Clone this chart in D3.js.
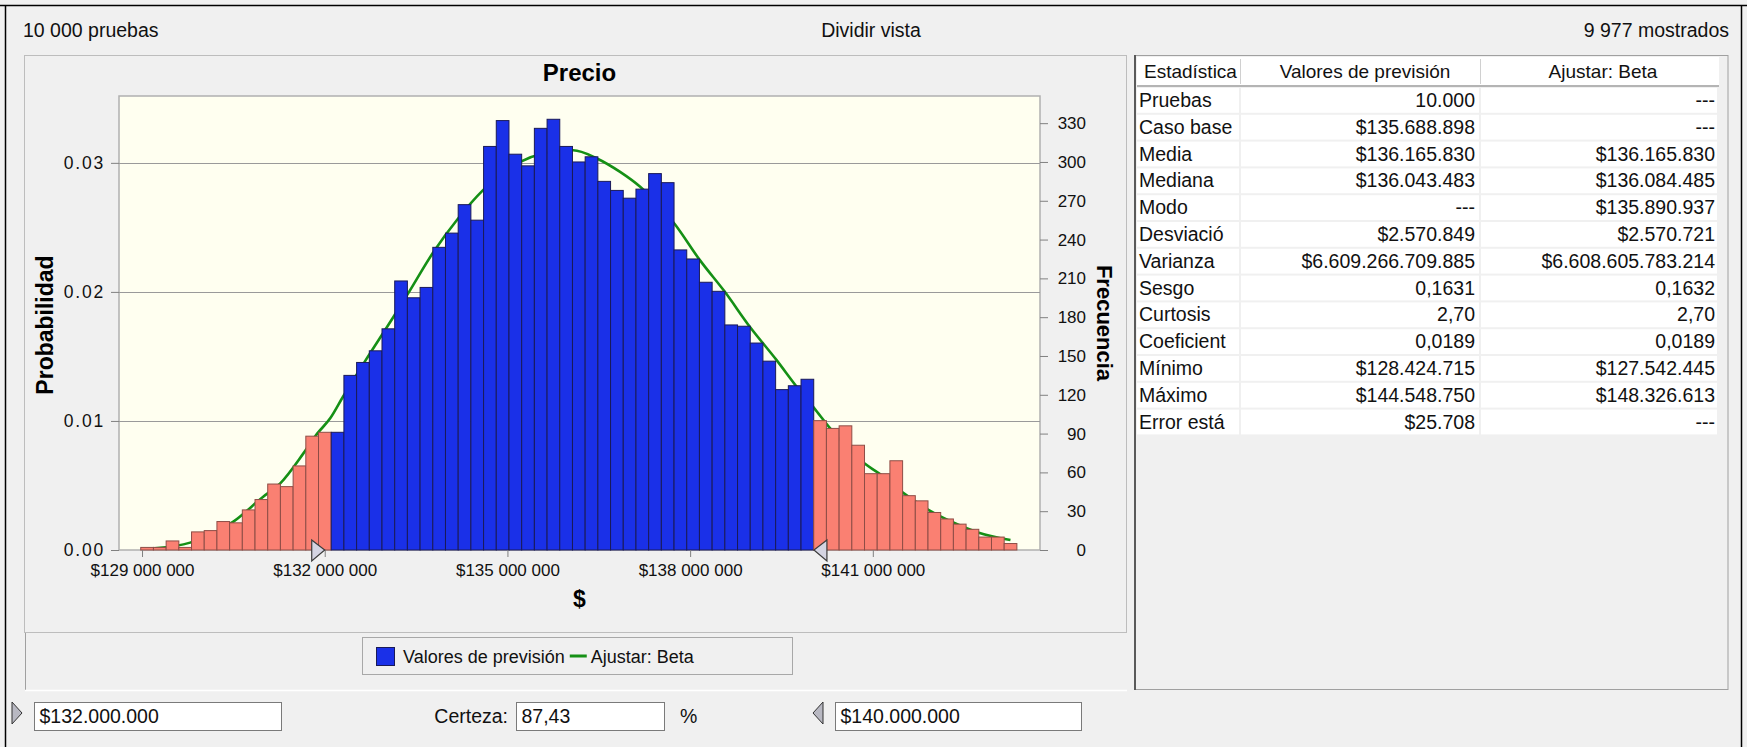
<!DOCTYPE html>
<html lang="es">
<head>
  <meta charset="UTF-8" />
  <title>Precio</title>
  <script src="https://d3js.org/d3.v7.min.js"></script>
  <style>
    body { margin: 0; background: #f0f0f0; overflow: hidden; }
    svg { display: block; font-family: "Liberation Sans", Arial, sans-serif; }
    .tick text { fill: #111; }
    .tick line { stroke: #808080; }
  </style>
</head>
<body>
  <svg width="1747" height="747"></svg>
  <script>
    // ---- datos ----
    const trials = 10000;
    const shown = 9977;
    const binStart = 128979000;
    const binWidth = 208500;
    const counts = [
      2, 2, 7, 2, 14, 15, 22, 21, 31, 39, 51, 49, 65, 88, 91,
      91, 135, 145, 154, 171, 208, 195, 203, 234, 245, 267, 255, 312, 332, 306,
      297, 326, 333, 312, 300, 304, 285, 278, 272, 279, 291, 284, 232, 225, 207,
      200, 174, 173, 160, 146, 124, 127, 132,
      100, 94, 96, 81, 59, 59, 69, 42, 38, 29, 24, 20, 16, 10, 10, 5
    ];
    const lowerBound = 132000000;
    const upperBound = 140000000;
    const certainty = "87,43";

    // curva ajustada (Beta): x en millones, y en frecuencia
    const fitX = [129.21, 129.79, 130.50, 130.99, 131.27, 131.65, 131.87, 132.09, 132.30, 132.66,
                  133.13, 133.37, 133.78, 134.19, 134.60, 135.21, 135.59, 136.08, 136.47, 136.85,
                  137.18, 137.75, 138.16, 138.57, 138.98, 139.42, 139.75, 140.04, 140.30, 140.86,
                  141.10, 141.51, 141.92, 142.33, 142.74, 143.26];
    const fitY = [1.3, 5.7, 21.9, 41.2, 51.5, 74.7, 89.6, 101.8, 118.5, 145.8,
                  180.3, 198.4, 230.0, 256.3, 278.2, 300.1, 306.6, 309.1, 302.7, 292.3,
                  280.8, 251.9, 224.1, 199.6, 172.6, 146.8, 126.2, 109.5, 94.0, 67.0,
                  59.3, 43.8, 30.9, 21.1, 13.4, 7.7];

    const xTicks = [129000000, 132000000, 135000000, 138000000, 141000000];
    const probTicks = [0, 0.01, 0.02, 0.03];
    const freqTicks = [0, 30, 60, 90, 120, 150, 180, 210, 240, 270, 300, 330];

    const statNames = ["Pruebas", "Caso base", "Media", "Mediana", "Modo", "Desviació", "Varianza",
                       "Sesgo", "Curtosis", "Coeficient", "Mínimo", "Máximo", "Error está"];
    const forecastVals = ["10.000", "$135.688.898", "$136.165.830", "$136.043.483", "---", "$2.570.849",
                          "$6.609.266.709.885", "0,1631", "2,70", "0,0189", "$128.424.715", "$144.548.750", "$25.708"];
    const betaVals = ["---", "---", "$136.165.830", "$136.084.485", "$135.890.937", "$2.570.721",
                      "$6.608.605.783.214", "0,1632", "2,70", "0,0189", "$127.542.445", "$148.326.613", "---"];
    const tableHeaders = ["Estadística", "Valores de previsión", "Ajustar: Beta"];

    // ---- escalas ----
    const svg = d3.select("svg");
    const plot = { left: 119, right: 1040, top: 96, bottom: 550 };

    const x = d3.scaleLinear().domain([128622000, 143745000]).range([plot.left, plot.right]);
    const yFreq = d3.scaleLinear().domain([0, 351]).range([plot.bottom, plot.top]);
    const yProb = d3.scaleLinear().domain([0, 351 / shown]).range([plot.bottom, plot.top]);

    const spaceLocale = d3.formatLocale({ decimal: ",", thousands: " ", grouping: [3], currency: ["$", ""] });
    const dotLocale = d3.formatLocale({ decimal: ",", thousands: ".", grouping: [3], currency: ["$", ""] });

    // ---- marco de la ventana ----
    svg.append("line").attr("x1", 0).attr("x2", 1747).attr("y1", 5.5).attr("y2", 5.5).attr("stroke", "#000").attr("stroke-width", 1.5);
    svg.append("line").attr("x1", 5.5).attr("x2", 5.5).attr("y1", 5).attr("y2", 747).attr("stroke", "#000").attr("stroke-width", 1.5);
    svg.append("line").attr("x1", 1741.5).attr("x2", 1741.5).attr("y1", 5).attr("y2", 747).attr("stroke", "#000").attr("stroke-width", 1.5);

    const hdr = svg.append("g").attr("font-size", 19.5).attr("fill", "#111");
    hdr.append("text").attr("x", 23).attr("y", 37).text(spaceLocale.format(",")(trials) + " pruebas");
    hdr.append("text").attr("x", 871).attr("y", 37).attr("text-anchor", "middle").text("Dividir vista");
    hdr.append("text").attr("x", 1729).attr("y", 37).attr("text-anchor", "end").text(spaceLocale.format(",")(shown) + " mostrados");

    // panel del gráfico
    svg.append("rect").attr("x", 24.5).attr("y", 55.5).attr("width", 1102).attr("height", 577)
      .attr("fill", "none").attr("stroke", "#8a8a8a").attr("stroke-dasharray", "1,1");
    svg.append("line").attr("x1", 25.5).attr("x2", 25.5).attr("y1", 633).attr("y2", 691).attr("stroke", "#a0a0a0");
    svg.append("line").attr("x1", 25).attr("x2", 1127).attr("y1", 690.5).attr("y2", 690.5).attr("stroke", "#ffffff").attr("stroke-width", 1.5);

    // área de trazado
    svg.append("rect").attr("x", plot.left).attr("y", plot.top)
      .attr("width", plot.right - plot.left).attr("height", plot.bottom - plot.top)
      .attr("fill", "#fffff0").attr("stroke", "#b0b0b0").attr("stroke-width", 1.5);

    svg.append("g").selectAll("line")
      .data(probTicks.filter(d => d > 0))
      .join("line")
      .attr("x1", plot.left).attr("x2", plot.right)
      .attr("y1", d => Math.round(yProb(d)) + 0.5).attr("y2", d => Math.round(yProb(d)) + 0.5)
      .attr("stroke", "#9a9a9a").attr("stroke-width", 1.2);

    // curva Beta (detrás de las barras)
    const fitPts = fitX.map((v, i) => [v * 1e6, fitY[i]]);
    svg.append("path")
      .datum(fitPts)
      .attr("fill", "none")
      .attr("stroke", "#159015")
      .attr("stroke-width", 2.6)
      .attr("d", d3.line().x(d => x(d[0])).y(d => yFreq(d[1])).curve(d3.curveMonotoneX));

    // histograma
    const bins = counts.map((c, i) => ({ start: binStart + i * binWidth, count: c }));
    const inside = d => d.start >= lowerBound && d.start < upperBound;
    svg.append("g").selectAll("rect")
      .data(bins)
      .join("rect")
      .attr("x", d => x(d.start))
      .attr("width", d => x(d.start + binWidth) - x(d.start))
      .attr("y", d => yFreq(d.count))
      .attr("height", d => plot.bottom - yFreq(d.count))
      .attr("fill", d => inside(d) ? "#1a30e8" : "#fa8072")
      .attr("stroke", d => inside(d) ? "#1a1a58" : "#8e4d46")
      .attr("stroke-width", 1);

    // ejes
    const axL = svg.append("g").attr("transform", `translate(${plot.left},0)`)
      .call(d3.axisLeft(yProb).tickValues(probTicks).tickFormat(d3.format(".2f")).tickSize(8).tickPadding(6));
    const axR = svg.append("g").attr("transform", `translate(${plot.right},0)`)
      .call(d3.axisRight(yFreq).tickValues(freqTicks).tickSize(8).tickPadding(8));
    const axB = svg.append("g").attr("transform", `translate(0,${plot.bottom})`)
      .call(d3.axisBottom(x).tickValues(xTicks).tickFormat(spaceLocale.format("$,.0f")).tickSize(7).tickPadding(7));
    [axL, axR, axB].forEach(g => {
      g.select(".domain").remove();
      g.attr("font-family", null).attr("font-size", 17);
    });
    axL.selectAll(".tick text").attr("font-size", 17.5).attr("letter-spacing", 1.8);
    axR.selectAll(".tick text").attr("text-anchor", "end").attr("x", 46);

    // marcadores de certeza
    const markers = svg.append("g").attr("fill", "#d4d4e2").attr("stroke", "#3c3c3c").attr("stroke-width", 1.2);
    const xl = x(lowerBound), xu = x(upperBound);
    markers.append("path").attr("d", `M${xl - 13},540 L${xl},550 L${xl - 13},561 Z`);
    markers.append("path").attr("d", `M${xu + 15},540 L${xu + 2},550 L${xu + 15},561 Z`);

    // títulos
    svg.append("text").attr("x", (plot.left + plot.right) / 2).attr("y", 81)
      .attr("text-anchor", "middle").attr("font-size", 24).attr("font-weight", "bold").text("Precio");
    svg.append("text").attr("transform", `translate(53,${(plot.top + plot.bottom) / 2 + 2}) rotate(-90)`)
      .attr("text-anchor", "middle").attr("font-size", 23).attr("font-weight", "bold").text("Probabilidad");
    svg.append("text").attr("transform", `translate(1097,${(plot.top + plot.bottom) / 2}) rotate(90)`)
      .attr("text-anchor", "middle").attr("font-size", 22).attr("font-weight", "bold").text("Frecuencia");
    svg.append("text").attr("x", (plot.left + plot.right) / 2).attr("y", 607)
      .attr("text-anchor", "middle").attr("font-size", 23).attr("font-weight", "bold").text("$");

    // leyenda
    const leg = svg.append("g").attr("font-size", 18).attr("fill", "#111");
    leg.append("rect").attr("x", 362.5).attr("y", 637.5).attr("width", 430).attr("height", 37)
      .attr("fill", "#f0f0f0").attr("stroke", "#a8a8a8");
    leg.append("rect").attr("x", 376.5).attr("y", 647.5).attr("width", 18).attr("height", 18)
      .attr("fill", "#1a30e8").attr("stroke", "#1a1a58");
    const t1 = leg.append("text").attr("x", 403).attr("y", 663).text("Valores de previsión");
    const lx = 403 + t1.node().getComputedTextLength() + 5;
    leg.append("line").attr("x1", lx).attr("x2", lx + 17).attr("y1", 656).attr("y2", 656)
      .attr("stroke", "#159015").attr("stroke-width", 3);
    leg.append("text").attr("x", lx + 21).attr("y", 663).text("Ajustar: Beta");

    // controles inferiores
    const ctl = svg.append("g").attr("font-size", 19.5).attr("fill", "#111");
    const boxes = [
      { x: 34.5, w: 247, text: dotLocale.format("$,.0f")(lowerBound) },
      { x: 516.5, w: 148, text: certainty },
      { x: 835.5, w: 246, text: dotLocale.format("$,.0f")(upperBound) }
    ];
    boxes.forEach(b => {
      ctl.append("rect").attr("x", b.x).attr("y", 702.5).attr("width", b.w).attr("height", 28)
        .attr("fill", "#fff").attr("stroke", "#7a7a7a");
      ctl.append("text").attr("x", b.x + 5).attr("y", 723).text(b.text);
    });
    ctl.append("text").attr("x", 508).attr("y", 723).attr("text-anchor", "end").text("Certeza:");
    ctl.append("text").attr("x", 680).attr("y", 723).text("%");
    ctl.append("path").attr("d", "M12,702 L22,713 L12,724 Z").attr("fill", "#b8b8c2").attr("stroke", "#333");
    ctl.append("path").attr("d", "M823,702 L813,713 L823,724 Z").attr("fill", "#b8b8c2").attr("stroke", "#333");

    // tabla de estadísticas
    const colX = [1137, 1241, 1481, 1719];
    const rowH = 26.8, rowTop = 87;
    const tbl = svg.append("g").attr("fill", "#111");
    tbl.append("rect").attr("x", 1134.5).attr("y", 55.5).attr("width", 593.5).attr("height", 634)
      .attr("fill", "#f0f0f0").attr("stroke", "#a0a0a0");
    tbl.append("line").attr("x1", 1135).attr("x2", 1135).attr("y1", 55).attr("y2", 690).attr("stroke", "#5a5a5a").attr("stroke-width", 2);
    tbl.append("rect").attr("x", colX[0]).attr("y", 57).attr("width", colX[3] - colX[0]).attr("height", 29).attr("fill", "#fff");
    tbl.append("line").attr("x1", colX[0]).attr("x2", colX[3]).attr("y1", 86).attr("y2", 86).attr("stroke", "#b4b4b4").attr("stroke-width", 2);
    [colX[1], colX[2]].forEach(cx => {
      tbl.append("line").attr("x1", cx - 0.5).attr("x2", cx - 0.5).attr("y1", 59).attr("y2", 84).attr("stroke", "#d0d0d0");
    });
    const th = tbl.append("g").attr("font-size", 19);
    th.append("text").attr("x", colX[0] + 7).attr("y", 78).text(tableHeaders[0]);
    th.append("text").attr("x", (colX[1] + colX[2]) / 2 + 4).attr("y", 78).attr("text-anchor", "middle").text(tableHeaders[1]);
    th.append("text").attr("x", (colX[2] + colX[3]) / 2 + 3).attr("y", 78).attr("text-anchor", "middle").text(tableHeaders[2]);

    const rows = tbl.append("g").attr("font-size", 19.5).selectAll("g")
      .data(statNames.map((n, i) => [n, forecastVals[i], betaVals[i]]))
      .join("g")
      .attr("transform", (d, i) => `translate(0,${rowTop + i * rowH})`);
    [0, 1, 2].forEach(j => {
      rows.append("rect").attr("x", colX[j]).attr("y", 1).attr("width", colX[j + 1] - colX[j] - 2)
        .attr("height", rowH - 2).attr("fill", "#fff");
    });
    rows.append("text").attr("x", colX[0] + 2).attr("y", 20).text(d => d[0]);
    rows.append("text").attr("x", colX[2] - 6).attr("y", 20).attr("text-anchor", "end").text(d => d[1]);
    rows.append("text").attr("x", colX[3] - 4).attr("y", 20).attr("text-anchor", "end").text(d => d[2]);
  </script>
</body>
</html>
